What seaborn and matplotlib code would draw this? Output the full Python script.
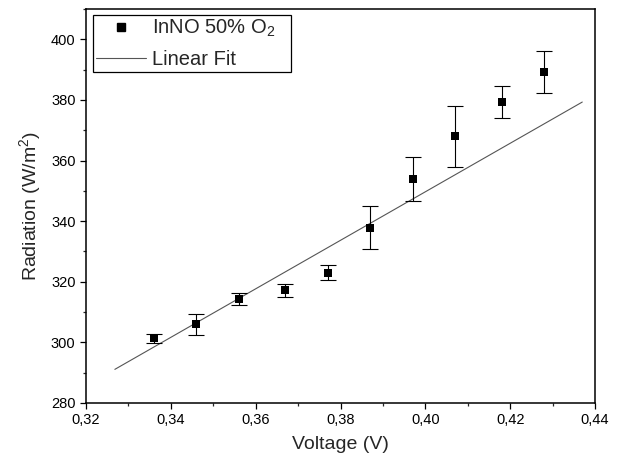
import matplotlib
matplotlib.use('Agg')
import matplotlib.pyplot as plt
import seaborn as sns
import numpy as np
import pandas as pd
from matplotlib.lines import Line2D
from matplotlib.ticker import MultipleLocator, FuncFormatter

# measured points
voltage = [0.336, 0.346, 0.356, 0.367, 0.377, 0.387, 0.397, 0.407, 0.418, 0.428]
radiation = [301.4, 306.0, 314.3, 317.2, 323.0, 337.9, 354.0, 368.0, 379.3, 389.3]
radiation_err = [1.5, 3.4, 2.1, 2.2, 2.4, 7.0, 7.3, 10.0, 5.2, 6.9]

# linear fit endpoints
fit_voltage = [0.3268, 0.4370]
fit_radiation = [291.1, 379.3]

sns.set_theme(style='ticks')
plt.rcParams['font.family'] = ['Liberation Sans', 'DejaVu Sans']
plt.rcParams['mathtext.fontset'] = 'custom'
plt.rcParams['mathtext.rm'] = 'Liberation Sans'
plt.rcParams['mathtext.it'] = 'Liberation Sans:italic'

df = pd.DataFrame({'Voltage': voltage, 'Radiation': radiation, 'err': radiation_err})
fit_df = pd.DataFrame({'Voltage': fit_voltage, 'Radiation': fit_radiation})

fig = plt.figure(figsize=(6.19, 4.66), dpi=100)
ax = fig.add_axes([86 / 619, 63 / 466, 509 / 619, 394 / 466])

sns.lineplot(data=fit_df, x='Voltage', y='Radiation', color='#555555', linewidth=0.8, ax=ax)
ax.errorbar(df['Voltage'], df['Radiation'], yerr=df['err'], fmt='none',
            ecolor='black', elinewidth=0.8, capsize=5.5, capthick=0.8, zorder=3)
sns.scatterplot(data=df, x='Voltage', y='Radiation', marker='s', s=40, color='black',
                edgecolor='black', linewidth=0, ax=ax, zorder=4)

ax.set_xlim(0.32, 0.44)
ax.set_ylim(280, 410)
ax.xaxis.set_major_locator(MultipleLocator(0.02))
ax.xaxis.set_minor_locator(MultipleLocator(0.01))
ax.yaxis.set_major_locator(MultipleLocator(20))
ax.yaxis.set_minor_locator(MultipleLocator(10))
ax.xaxis.set_major_formatter(FuncFormatter(lambda v, p: f'{v:.2f}'.replace('.', ',')))
ax.tick_params(which='major', direction='out', length=4, width=0.9, labelsize=10.5, colors='black')
ax.tick_params(which='minor', direction='out', length=2.5, width=0.9)
for s in ax.spines.values():
    s.set_linewidth(1.1)
    s.set_color('black')

ax.set_xlabel('Voltage (V)', fontsize=14, labelpad=6)
ax.set_ylabel('Radiation (W/m$^2$)', fontsize=14, labelpad=6)

handles = [
    Line2D([], [], marker='s', linestyle='none', color='black', markersize=6),
    Line2D([], [], color='#555555', linewidth=0.8),
]
leg = ax.legend(handles, ['InNO 50% O$_2$', 'Linear Fit'], loc='upper left',
                bbox_to_anchor=(0.0138, 0.0, 0.389, 0.985), mode='expand',
                fontsize=14.5, frameon=True, fancybox=False,
                edgecolor='black', framealpha=1, borderpad=0.15, labelspacing=0.55,
                handlelength=2.5, handletextpad=0.3, borderaxespad=0)
leg.get_frame().set_linewidth(0.9)

fig.savefig('out.png', dpi=100)
